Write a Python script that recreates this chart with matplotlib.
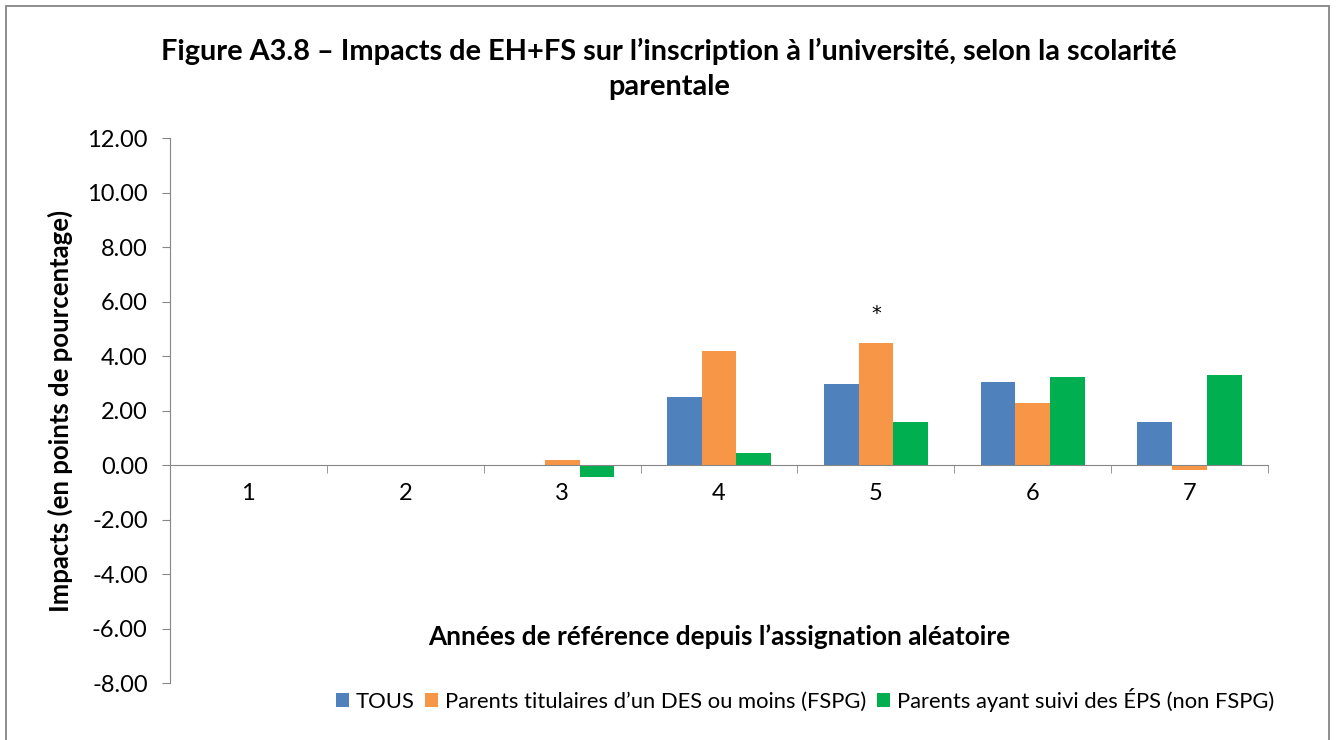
import numpy as np
import matplotlib.pyplot as plt
from matplotlib.patches import Rectangle

plt.rcParams['font.family'] = ['Lato', 'DejaVu Sans']

# impacts by baseline year
years = ['1', '2', '3', '4', '5', '6', '7']
tous = [0.0, 0.0, 0.01, 2.50, 2.98, 3.03, 1.59]
fspg = [0.0, 0.0, 0.17, 4.17, 4.47, 2.29, -0.17]
non_fspg = [0.0, 0.0, -0.45, 0.44, 1.59, 3.24, 3.30]
series_names = ['TOUS', 'Parents titulaires d\u2019un DES ou moins (FSPG)',
                'Parents ayant suivi des \u00c9PS (non FSPG)']
colors = ['#4F81BD', '#F79646', '#00B050']
star_year = '5'

fig = plt.figure(figsize=(13.38, 7.40), dpi=100)
ax = fig.add_axes([0.127, 0.077, 0.8208, 0.7365])

x = np.arange(len(years))
w = 0.222
for i, (vals, c, name) in enumerate(zip([tous, fspg, non_fspg], colors, series_names)):
    ax.bar(x + (i - 1) * w, vals, width=w, color=c, label=name, edgecolor='none')

# significance marker above the FSPG bar
k = years.index(star_year)
ax.text(k, fspg[k] + 1.1, '*', ha='center', va='center', fontsize=14,
        family='DejaVu Sans')

ax.set_xlim(-0.5, len(years) - 0.5)
ax.set_ylim(-8, 12)
ax.set_yticks(np.arange(-8, 12.1, 2))
ax.set_yticklabels([f'{v:.2f}' for v in np.arange(-8, 12.1, 2)], fontsize=17)

for s in ['top', 'right']:
    ax.spines[s].set_visible(False)
ax.spines['left'].set_color('#868686')
ax.spines['bottom'].set_position(('data', 0))
ax.spines['bottom'].set_color('#868686')
ax.tick_params(axis='y', color='#868686', length=6, pad=10)
ax.tick_params(axis='x', which='both', length=0, labelsize=17, pad=13)
ax.set_xticks(x)
ax.set_xticklabels(years)
ax.set_xticks(np.arange(-0.5, len(years), 1), minor=True)
ax.tick_params(axis='x', which='minor', length=6, color='#868686', direction='out')

ax.set_ylabel('Impacts (en points de pourcentage)', fontsize=18.5, fontweight='bold', labelpad=10)
ax.text(3, -6.3, 'Ann\u00e9es de r\u00e9f\u00e9rence depuis l\u2019assignation al\u00e9atoire',
        ha='center', va='center', fontsize=18.8, fontweight='bold')

fig.text(0.5, 0.907,
         'Figure A3.8 \u2013 Impacts de EH+FS sur l\u2019inscription \u00e0 l\u2019universit\u00e9, selon la scolarit\u00e9\nparentale',
         ha='center', va='center', fontsize=20.8, fontweight='bold', linespacing=1.45)

leg = ax.legend(loc='center', ncol=3, frameon=False, fontsize=15.8,
                handlelength=0.6, handleheight=0.6, handletextpad=0.3, columnspacing=0.5)
leg.set_bbox_to_anchor((805 / 1338, 1 - 700 / 740), transform=fig.transFigure)

fig.patches.append(Rectangle((6 / 1338, -0.01), 1323 / 1338, 1 - 6 / 740 + 0.01,
                             transform=fig.transFigure, fill=False,
                             edgecolor='#868686', linewidth=1.3))

fig.savefig('out.png', dpi=100)
